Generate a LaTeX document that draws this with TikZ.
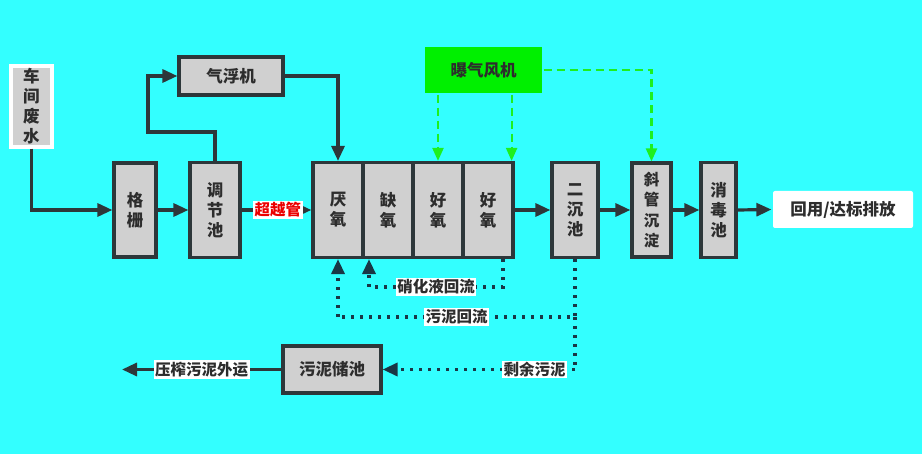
\documentclass[tikz,border=0pt]{standalone}
\usepackage{fontspec}
\setmainfont{Noto Sans CJK SC}
\usetikzlibrary{arrows.meta}
\definecolor{bgc}{RGB}{51,255,255}
\definecolor{boxfill}{RGB}{208,208,208}
\definecolor{boxline}{RGB}{45,55,58}
\definecolor{txt}{RGB}{45,45,45}
\definecolor{fang}{RGB}{0,240,0}
\definecolor{dashg}{RGB}{30,240,30}
\definecolor{dotc}{RGB}{25,55,70}
\definecolor{redt}{RGB}{235,0,0}
\begin{document}
\begin{tikzpicture}[x=1pt,y=-1pt,
  box/.style={draw=boxline, fill=boxfill, line width=3.2pt, inner sep=0pt, align=center,
    font=\bfseries\fontsize{16.5}{20}\selectfont, text=txt},
  lbl/.style={fill=white, inner sep=1.5pt, font=\bfseries\fontsize{15.5}{17}\selectfont, text=txt},
  arr/.style={draw=boxline, line width=3.2pt, -{Triangle[length=15pt,width=13pt]}},
  garr/.style={draw=dashg, line width=2.2pt, dash pattern=on 8pt off 5pt, -{Triangle[length=13pt,width=11pt]}},
  darr/.style={draw=dotc, line width=3.4pt, dash pattern=on 3.4pt off 5.6pt, -{Triangle[length=15pt,width=13pt]}},
  dline/.style={draw=dotc, line width=3.4pt, dash pattern=on 3.4pt off 5.6pt}]
\fill[bgc] (0,0) rectangle (922,454);
\useasboundingbox (0,0) rectangle (922,454);

% nodes
\node[box, draw=white, minimum width=41pt, minimum height=81pt] (ws) at (31.5,106.5) {车\\间\\废\\水};
\node[box, minimum width=42pt, minimum height=94pt] (gz) at (135,210) {格\\栅};
\node[box, minimum width=50pt, minimum height=95pt] (tj) at (215,210) {调\\节\\池};
\node[box, minimum width=104pt, minimum height=38pt] (qf) at (231,76) {气浮机};
\node[box, minimum width=50pt, minimum height=95pt] (yan) at (338,210) {厌\\氧};
\node[box, minimum width=50pt, minimum height=95pt] (que) at (388,210) {缺\\氧};
\node[box, minimum width=50pt, minimum height=95pt] (hao1) at (438,210) {好\\氧};
\node[box, minimum width=50pt, minimum height=95pt] (hao2) at (488,210) {好\\氧};
\node[box, draw=none, fill=fang, minimum width=117pt, minimum height=46pt] (fan) at (483.5,70) {曝气风机};
\node[box, minimum width=46pt, minimum height=95pt] (ec) at (575,210) {二\\沉\\池};
\node[box, minimum width=39pt, minimum height=94pt, font=\bfseries\fontsize{15.5}{20.5}\selectfont] (xg) at (651.5,210) {斜\\管\\沉\\淀};
\node[box, minimum width=35pt, minimum height=95pt] (xd) at (718.5,210) {消\\毒\\池};
\node[box, draw=none, fill=white, rounded corners=2pt, minimum width=140pt, minimum height=37pt] (hy) at (843,209.5) {回用/达标排放};
\node[box, minimum width=98pt, minimum height=47pt] (wn) at (332,369.5) {污泥储池};

% coordinates
\coordinate (c1) at (148,132);
\coordinate (n1) at (503,287);
\coordinate (n2) at (369,287);
\coordinate (s1) at (575,317);
\coordinate (s2) at (338,317);
\coordinate (r1) at (575,369.5);
\coordinate (out) at (122,369.5);

% solid connectors
\draw[arr] (ws.south) |- (gz.west);
\draw[arr] (gz.east) -- (tj.west);
\draw[arr] (tj.north) |- (c1) |- (qf.west);
\draw[arr] (qf.east) -| (yan.north);
\draw[arr] (tj.east) -- node[lbl, text=redt, pos=0.52] {超越管} (yan.west);
\draw[arr] (hao2.east) -- (ec.west);
\draw[arr] (ec.east) -- (xg.west);
\draw[arr] (xg.east) -- (xd.west);
\draw[arr] (xd.east) -- (hy.west);
\draw[arr] (wn.west) -- node[lbl] {压榨污泥外运} (out);

% green dashed
\draw[garr] (fan.south -| hao1.north) -- (hao1.north);
\draw[garr] ([xshift=-3pt]fan.south -| hao2.north east) -- ([xshift=-3pt]hao2.north east);
\draw[garr] (fan.east) -| (xg.north);

% dotted returns
\draw[dline] (hao2.south -| n1) -- (n1) -- node[lbl] {硝化液回流} (n2);
\draw[darr] (n2) -- (que.south -| n2);
\draw[dline] (ec.south) -- (s1) -- node[lbl] {污泥回流} (s2);
\draw[darr] (s2) -- (yan.south);
\draw[dline] (s1) -- (r1);
\draw[darr] (r1) -- node[lbl, pos=0.21] {剩余污泥} (wn.east);
\end{tikzpicture}
\end{document}
